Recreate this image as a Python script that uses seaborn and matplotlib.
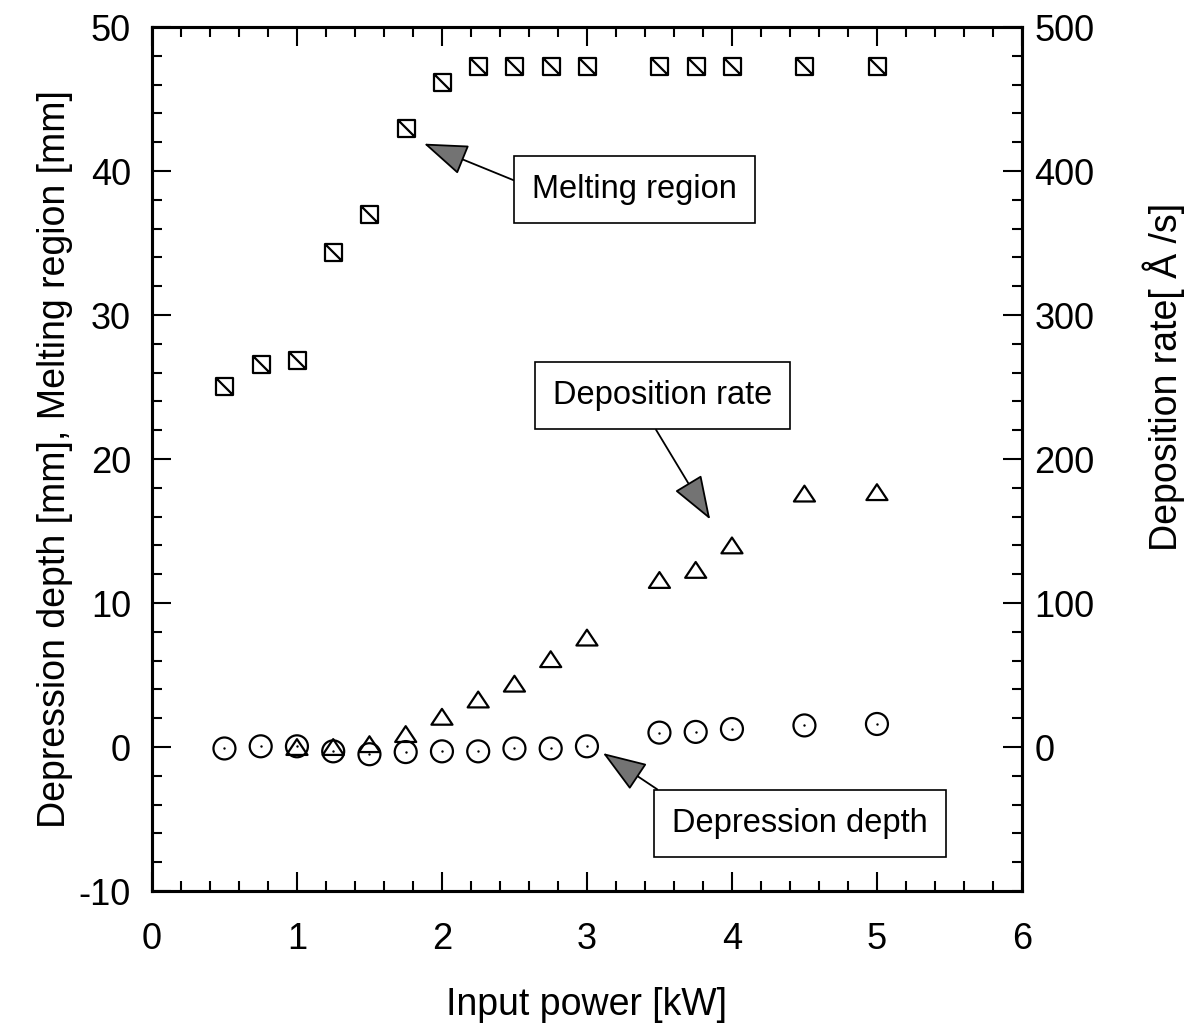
import numpy as np
import pandas as pd
import matplotlib
matplotlib.use('Agg')
import matplotlib.pyplot as plt
from matplotlib.path import Path
from matplotlib.ticker import MultipleLocator
import seaborn as sns

# данные
power = [0.5, 0.75, 1.0, 1.25, 1.5, 1.75, 2.0, 2.25, 2.5, 2.75, 3.0, 3.5, 3.75, 4.0, 4.5, 5.0]
melting = [25.1, 26.6, 26.9, 34.4, 37.0, 43.0, 46.2, 47.3, 47.3, 47.3, 47.3, 47.3, 47.3, 47.3, 47.3, 47.3]
depression = [-0.1, 0.05, 0.05, -0.3, -0.5, -0.35, -0.3, -0.3, -0.1, -0.1, 0.05, 1.0, 1.05, 1.25, 1.5, 1.6]
power_dep = [1.0, 1.25, 1.5, 1.75, 2.0, 2.25, 2.5, 2.75, 3.0, 3.5, 3.75, 4.0, 4.5, 5.0]
dep_rate = [0, 0, 2, 9, 21, 33, 44, 61, 76, 116, 123, 140, 176, 177]

df = pd.DataFrame({'power': power, 'melting': melting, 'depression': depression})
df_dep = pd.DataFrame({'power': power_dep, 'rate': dep_rate})

sns.set_style('ticks')
plt.rcParams['font.family'] = ['Liberation Sans', 'DejaVu Sans']
plt.rcParams['axes.unicode_minus'] = False
plt.rcParams['text.color'] = 'black'
plt.rcParams['axes.labelcolor'] = 'black'
plt.rcParams['xtick.color'] = 'black'
plt.rcParams['ytick.color'] = 'black'

# маркеры: квадрат с диагональю и сплюснутый треугольник
sq_path = Path([(-1, 1), (1, 1), (1, -1), (-1, -1), (-1, 1), (-1, 1), (1, -1)],
               [Path.MOVETO, Path.LINETO, Path.LINETO, Path.LINETO, Path.CLOSEPOLY,
                Path.MOVETO, Path.LINETO])
tri_path = Path([(-1, -0.75), (1, -0.75), (0, 0.75), (-1, -0.75)],
                [Path.MOVETO, Path.LINETO, Path.LINETO, Path.CLOSEPOLY])

fig = plt.figure(figsize=(11.89, 10.23), dpi=100)
ax = fig.add_axes([0.1278, 0.129, 0.7317, 0.8446])
ax2 = ax.twinx()

sns.scatterplot(data=df, x='power', y='melting', ax=ax, marker=sq_path, s=150,
                facecolor='white', edgecolor='black', linewidth=1.6, zorder=3)
sns.scatterplot(data=df, x='power', y='depression', ax=ax, marker='o', s=250,
                facecolor='none', edgecolor='black', linewidth=1.6, zorder=3)
sns.scatterplot(data=df, x='power', y='depression', ax=ax, marker='o', s=3,
                color='black', linewidth=0, zorder=3)
sns.scatterplot(data=df_dep, x='power', y='rate', ax=ax2, marker=tri_path, s=230,
                facecolor='none', edgecolor='black', linewidth=1.6, zorder=3)

ax.set_xlim(0, 6)
ax.set_ylim(-10, 50)
ax2.set_ylim(-100, 500)
ax.xaxis.set_major_locator(MultipleLocator(1))
ax.xaxis.set_minor_locator(MultipleLocator(0.2))
ax.yaxis.set_major_locator(MultipleLocator(10))
ax.yaxis.set_minor_locator(MultipleLocator(2))
ax2.set_yticks([0, 100, 200, 300, 400, 500])
ax2.yaxis.set_minor_locator(MultipleLocator(20))

ax.tick_params(axis='both', which='both', direction='in', labelsize=26, width=1.5)
ax.tick_params(axis='x', which='both', top=True)
ax.tick_params(axis='y', which='both', right=False)
ax.tick_params(which='major', length=14)
ax.tick_params(which='minor', length=7)
ax.tick_params(axis='x', which='major', pad=22)
ax.tick_params(axis='y', which='major', pad=15)
ax2.tick_params(axis='y', which='both', direction='in', labelsize=26, width=1.5)
ax2.tick_params(which='major', length=14, pad=9)
ax2.tick_params(which='minor', length=7)

for a in (ax, ax2):
    for sp in a.spines.values():
        sp.set_linewidth(2.2)
        sp.set_color('black')

ax.set_xlabel('Input power [kW]', fontsize=27, labelpad=22)
ax.set_ylabel('Depression depth [mm], Melting region [mm]', fontsize=27, labelpad=4)
ax2.set_ylabel('Deposition rate[ Å /s]', fontsize=27)
ax2.yaxis.set_label_coords(1.138, 0.595)

box = dict(boxstyle='square,pad=0.55', fc='white', ec='black', lw=1.2)
arr = dict(arrowstyle='-|>,head_length=1.4,head_width=0.5', fc='0.45', ec='black',
           lw=1.3, shrinkA=0, shrinkB=0, mutation_scale=20)

ax.annotate('Melting region', xy=(1.876, 41.9), xytext=(3.33, 38.7), fontsize=23.5,
            ha='center', va='center', bbox=box, arrowprops=dict(arr, relpos=(0, 0.56)))
ax.annotate('Deposition rate', xy=(3.85, 15.8), xytext=(3.52, 24.4), fontsize=23.5,
            ha='center', va='center', bbox=box, arrowprops=dict(arr, relpos=(0.42, 0)))
ax.annotate('Depression depth', xy=(3.11, -0.42), xytext=(4.47, -5.3), fontsize=23.5,
            ha='center', va='center', bbox=box, arrowprops=dict(arr, relpos=(0.05, 1)))

fig.savefig('out.png', dpi=100)
